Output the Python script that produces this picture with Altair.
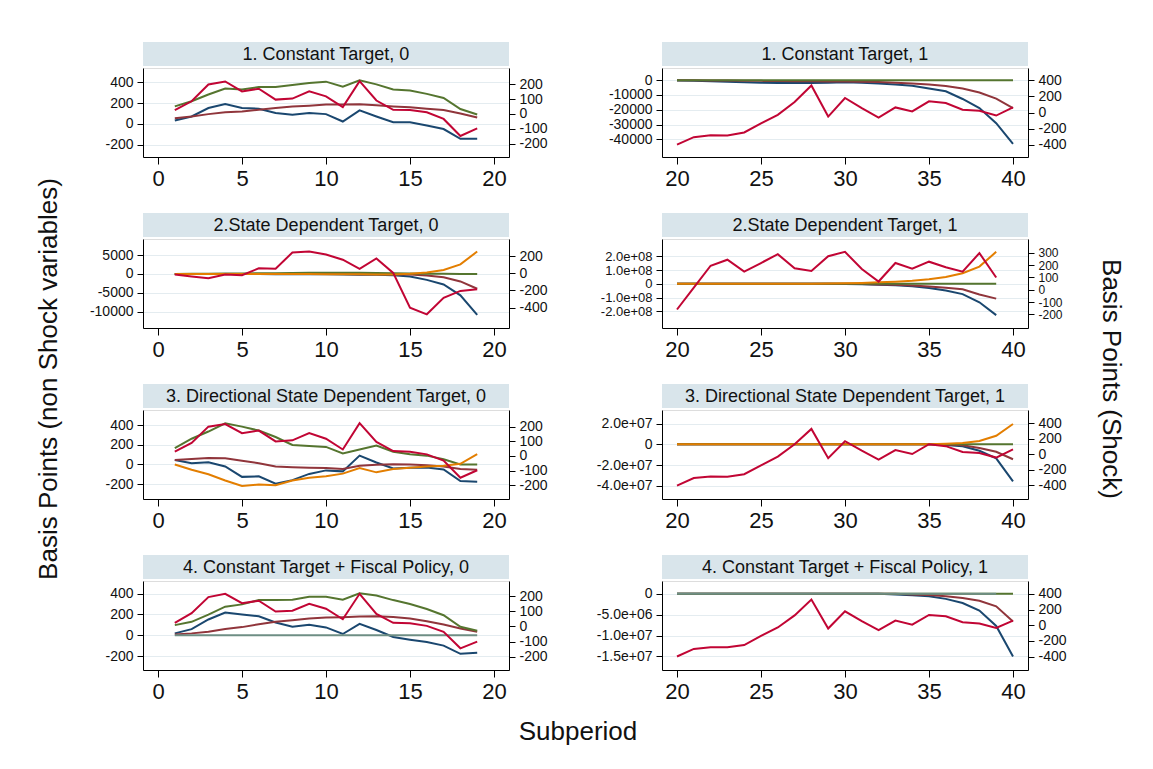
import altair as alt
import pandas as pd

FONT = "Liberation Sans"

# ---------------- data ----------------
X_LEFT = [1, 2, 3, 4, 5, 6, 7, 8, 9, 10, 11, 12, 13, 14, 15, 16, 17, 18, 19]
X_RIGHT = [20, 21, 22, 23, 24, 25, 26, 27, 28, 29, 30, 31, 32, 33, 34, 35, 36, 37, 38, 39, 40]
X_RIGHT_P2 = [20, 21, 22, 23, 24, 25, 26, 27, 28, 29, 30, 31, 32, 33, 34, 35, 36, 37, 38, 39]

TITLES = [
    "1. Constant Target, 0", "1. Constant Target, 1",
    "2.State Dependent Target, 0", "2.State Dependent Target, 1",
    "3. Directional State Dependent Target, 0", "3. Directional State Dependent Target, 1",
    "4. Constant Target + Fiscal Policy, 0", "4. Constant Target + Fiscal Policy, 1",
]

# Panel 1, 0
P1L_NAVY = [32, 71, 152, 191, 152, 146, 104, 87, 104, 94, 23, 130, 71, 16, 16, -16, -49, -143, -143]
P1L_MAROON = [55, 71, 94, 113, 120, 136, 152, 168, 175, 185, 185, 188, 178, 168, 159, 146, 133, 100, 62]
P1L_GREEN = [168, 217, 282, 340, 330, 353, 353, 373, 392, 405, 356, 418, 379, 330, 321, 288, 249, 143, 91]
P1L_SHOCK = [26, 85, 197, 217, 151, 169, 96, 103, 151, 118, 46, 219, 90, 28, 26, 11, -33, -147, -96]

# Panel 1, 1
P1R_NAVY = [-200, -500, -800, -1100, -1400, -1700, -1900, -2000, -1900, -1700, -1500, -1700, -2200,
            -2900, -3800, -5700, -7500, -12700, -18800, -29000, -43000]
P1R_MAROON = [0, -100, -200, -300, -400, -500, -600, -700, -800, -900, -1000, -1100, -1300, -1700,
              -2200, -2950, -4000, -5600, -8300, -12500, -18800]
P1R_GREEN = [0, 0, 0, 0, 0, 0, 0, 0, 0, 0, 0, 0, 0, 0, 0, 0, 0, 0, 0, 0, 0]
P1R_SHOCK = [-400, -307, -282, -286, -248, -135, -29, 131, 337, -51, 181, 55, -63, 63, 13, 139, 118, 34, 21, -38, 63]

# Panel 2, 0
P2L_NAVY = [0, -10, -20, -30, -40, -50, -60, -80, -100, -120, -150, -200, -250, -350, -700, -1580, -2800, -5700, -10900]
P2L_MAROON = [0, -5, -10, -15, -20, -25, -30, -35, -40, -45, -50, -60, -80, -100, -175, -440, -880, -2000, -3950]
P2L_GREEN = [0, 20, 50, 80, 120, 160, 200, 250, 300, 330, 330, 300, 250, 180, 100, 50, 20, 0, 0]
P2L_ORANGE = [0, 0, 0, 0, 0, -10, -20, -30, -50, -70, -90, -120, -150, -150, 50, 350, 1050, 2540, 5960]
P2L_SHOCK = [-15, -38, -57, -15, -23, 57, 53, 241, 252, 218, 157, 50, 172, 4, -401, -478, -287, -206, -187]

# Panel 2, 1
P2R_NAVY = [0, 0, 0, 0, 0, 0, 0, 0, 0, 0, -1000000, -3000000, -6000000, -11000000, -18000000,
            -30000000, -48000000, -75000000, -135000000, -229000000]
P2R_MAROON = [0, 0, 0, 0, 0, 0, 0, 0, 0, 0, 0, -2000000, -4000000, -7000000, -12000000,
              -19000000, -28000000, -39000000, -78000000, -108000000]
P2R_GREEN = [0, 0, 0, 0, 0, 0, 0, 0, 0, 0, 0, 0, 0, 0, 0, 0, 0, 0, 0, 0]
P2R_ORANGE = [0, 0, 0, 0, 0, 0, 0, 0, 1000000, 2000000, 4000000, 7000000, 11000000, 16000000,
              23000000, 33000000, 50000000, 78000000, 126000000, 234000000]
P2R_SHOCK = [-161, 17, 196, 245, 148, 218, 290, 175, 153, 274, 309, 169, 67, 218, 172, 229, 183, 148, 299, 100]

# Panel 3, 0
P3L_NAVY = [46, 13, 23, -20, -126, -120, -196, -159, -96, -60, -70, 90, 20, -40, -33, -30, -50, -169, -176]
P3L_MAROON = [46, 56, 66, 63, 37, 13, -20, -27, -33, -37, -46, -13, -3, 3, 0, -7, -20, -46, -53]
P3L_GREEN = [166, 262, 335, 418, 385, 345, 279, 199, 189, 179, 113, 153, 193, 129, 103, 90, 53, 0, 0]
P3L_ORANGE = [0, -53, -100, -163, -219, -203, -212, -163, -136, -120, -93, -37, -80, -46, -33, -20, -13, 7, 106]
P3L_SHOCK = [29, 88, 199, 217, 155, 172, 99, 106, 155, 117, 44, 223, 95, 33, 29, 11, -31, -148, -97]

# Panel 3, 1
P3R_NAVY = [0, 0, 0, 0, 0, 0, 0, 0, 0, 0, 0, 0, 0, 0, 0, -100000, -600000, -1900000, -6300000,
            -13500000, -35800000]
P3R_MAROON = [0, 0, 0, 0, 0, 0, 0, 0, 0, 0, 0, 0, 0, 0, 0, 0, -200000, -900000, -3500000,
              -7200000, -14400000]
P3R_GREEN = [0, 0, 0, 0, 0, 0, 0, 0, 0, 0, 0, 0, 0, 0, 0, 0, 0, 0, 0, 0, 0]
P3R_ORANGE = [0, 0, 0, 0, 0, 0, 0, 0, 0, 0, 0, 0, 0, 0, 0, 0, 600000, 1300000, 3100000, 8200000, 19500000]
P3R_SHOCK = [-402, -306, -285, -289, -256, -142, -29, 130, 327, -50, 168, 46, -67, 54, 4, 130, 105, 29, 17, -42, 63]

# Panel 4, 0
P4L_NAVY = [19, 60, 152, 218, 199, 183, 123, 82, 101, 76, 13, 111, 51, -16, -41, -63, -98, -177, -167]
P4L_MAROON = [9, 19, 35, 60, 79, 107, 130, 145, 161, 171, 174, 180, 183, 177, 161, 136, 104, 66, 35]
P4L_GREEN = [98, 130, 199, 275, 297, 338, 338, 341, 370, 370, 341, 404, 382, 338, 300, 253, 193, 82, 44]
P4L_TEAL = [0, 0, 0, 0, 0, 0, 0, 0, 0, 0, 0, 0, 0, 0, 0, 0, 0, 0, 0]
P4L_SHOCK = [24, 88, 195, 217, 155, 171, 99, 105, 151, 118, 48, 217, 83, 24, 22, 4, -35, -145, -101]

# Panel 4, 1
P4R_NAVY = [0, 0, 0, 0, 0, 0, 0, 0, 0, 0, 0, 0, 0, -160000, -330000, -550000, -1200000, -2200000,
            -4000000, -7700000, -15000000]
P4R_MAROON = [0, 0, 0, 0, 0, 0, 0, 0, 0, 0, 0, 0, 0, 0, -150000, -300000, -550000, -1000000,
              -1660000, -3000000, -6600000]
P4R_GREEN = [0, 0, 0, 0, 0, 0, 0, 0, 0, 0, 0, 0, 0, 0, 0, 0, 0, 0, 0, 0, 0]
P4R_TEAL = [0, 0, 0, 0, 0, 0, 0, 0, 0, 0, 0, 0, 0, 0, 0, 0, 0, 0, 0, 0]
P4R_SHOCK = [-400, -303, -282, -282, -253, -135, -29, 126, 328, -42, 177, 51, -63, 59, 8, 131, 114, 38, 21, -34, 59]

# tick values / labels
X_TICKS_LEFT = [0, 5, 10, 15, 20]
X_TICKS_RIGHT = [20, 25, 30, 35, 40]

T_A = [-200, 0, 200, 400]
L_A = ["-200", "0", "200", "400"]
T_B = [-200, -100, 0, 100, 200]
L_B = ["-200", "-100", "0", "100", "200"]
T_C = [-10000, -5000, 0, 5000]
L_C = ["-10000", "-5000", "0", "5000"]
T_D = [-400, -200, 0, 200]
L_D = ["-400", "-200", "0", "200"]
T_E = [-40000, -30000, -20000, -10000, 0]
L_E = ["-40000", "-30000", "-20000", "-10000", "0"]
T_F = [-400, -200, 0, 200, 400]
L_F = ["-400", "-200", "0", "200", "400"]
T_G = [-200000000, -100000000, 0, 100000000, 200000000]
L_G = ["-2.0e+08", "-1.0e+08", "0", "1.0e+08", "2.0e+08"]
T_H = [-200, -100, 0, 100, 200, 300]
L_H = ["-200", "-100", "0", "100", "200", "300"]
T_I = [-40000000, -20000000, 0, 20000000]
L_I = ["-4.0e+07", "-2.0e+07", "0", "2.0e+07"]
T_J = [-15000000, -10000000, -5000000, 0]
L_J = ["-1.5e+07", "-1.0e+07", "-5.0e+06", "0"]

# ---------------- styling ----------------
COLORS = {"navy": "#1a476f", "maroon": "#90353b", "green": "#55752f",
          "orange": "#e37e00", "teal": "#6e8e84"}
RED = "#c10534"
STRIP = "#d9e5eb"
GRID = "#e4ecf0"
W, H = 366, 89


def label_expr(values, labels):
    parts = [f"datum.value == {v} ? '{l}'" for v, l in zip(values, labels)]
    return " : ".join(parts) + " : ''"


ONE = pd.DataFrame({"k": [0]})


def panel(title, xs_shock, series, shock, left_dom, lt, ll, right_dom, rt, rl, x_dom, x_ticks,
          extras=(), right_font=14, left_font=14):
    rows = []
    for name, xs, vals in series:
        for x, v in zip(xs, vals):
            rows.append({"x": x, "series": name, "value": v})
    df = pd.DataFrame(rows)
    xenc = alt.X("x:Q", scale=alt.Scale(domain=x_dom, nice=False, zero=False),
                 axis=alt.Axis(values=x_ticks, format="d", title=None, grid=False,
                               tickSize=7, labelFontSize=22, labelPadding=4, labelFont=FONT,
                               labelColor="#111", domainColor="black", tickColor="black",
                               labelFlush=False, labelOverlap=False))
    left_axis = alt.Axis(values=lt, labelExpr=label_expr(lt, ll), title=None, grid=True,
                         gridColor=GRID, gridWidth=1.2, tickSize=6, labelPadding=4,
                         labelFontSize=left_font, labelFont=FONT, labelColor="#111",
                         domainColor="black", tickColor="black", labelOverlap=False,
                         labelFlush=False)
    yscale = alt.Scale(domain=left_dom, nice=False, zero=False)
    layers = []
    for name, _, _ in series:
        layers.append(
            alt.Chart(df).transform_filter(alt.datum.series == name)
            .mark_line(color=COLORS[name], strokeWidth=2)
            .encode(x=xenc, y=alt.Y("value:Q", scale=yscale, axis=left_axis))
        )
    left = alt.layer(*layers)
    sdf = pd.DataFrame({"x": xs_shock, "shock": shock})
    right_axis = alt.Axis(orient="right", values=rt, labelExpr=label_expr(rt, rl), title=None,
                          grid=False, tickSize=6, labelPadding=4, labelFontSize=right_font,
                          labelFont=FONT, labelColor="#111", domainColor="black",
                          tickColor="black", labelOverlap=False, labelFlush=False)
    red = alt.Chart(sdf).mark_line(color=RED, strokeWidth=2).encode(
        x=xenc, y=alt.Y("shock:Q", scale=alt.Scale(domain=right_dom, nice=False, zero=False),
                        axis=right_axis))
    strip = alt.Chart(ONE).mark_rect(color=STRIP).encode(
        x=alt.value(0), x2=alt.value(W), y=alt.value(-26), y2=alt.value(-2))
    stext = alt.Chart(ONE).mark_text(text=title, fontSize=18, font=FONT, color="#111",
                                     baseline="middle", align="center").encode(
        x=alt.value(W / 2), y=alt.value(-13))
    return alt.layer(strip, stext, left, red, *extras).resolve_scale(y="independent").properties(
        width=W, height=H)


LEFT_DOM = [-0.893, 20.893]
RIGHT_DOM = [19.107, 40.893]

left_title = alt.Chart(ONE).mark_text(text="Basis Points (non Shock variables)", fontSize=26,
                                      font=FONT, color="#111", angle=270, align="center",
                                      baseline="middle").encode(x=alt.value(-94), y=alt.value(140))
right_title = alt.Chart(ONE).mark_text(text="Basis Points (Shock)", fontSize=26,
                                       font=FONT, color="#111", angle=90, align="center",
                                       baseline="middle").encode(x=alt.value(449), y=alt.value(140))
bottom_title = alt.Chart(ONE).mark_text(text="Subperiod", fontSize=26, font=FONT, color="#111",
                                        align="center", baseline="middle").encode(
    x=alt.value(435), y=alt.value(151))

p1l = panel(TITLES[0], X_LEFT,
            [("navy", X_LEFT, P1L_NAVY), ("maroon", X_LEFT, P1L_MAROON), ("green", X_LEFT, P1L_GREEN)],
            P1L_SHOCK, [-317, 536], T_A, L_A, [-287, 307], T_B, L_B, LEFT_DOM, X_TICKS_LEFT)
p1r = panel(TITLES[1], X_RIGHT,
            [("navy", X_RIGHT, P1R_NAVY), ("maroon", X_RIGHT, P1R_MAROON), ("green", X_RIGHT, P1R_GREEN)],
            P1R_SHOCK, [-51830, 8180], T_E, L_E, [-554, 554], T_F, L_F, RIGHT_DOM, X_TICKS_RIGHT)
p2l = panel(TITLES[2], X_LEFT,
            [("navy", X_LEFT, P2L_NAVY), ("maroon", X_LEFT, P2L_MAROON), ("green", X_LEFT, P2L_GREEN),
             ("orange", X_LEFT, P2L_ORANGE)],
            P2L_SHOCK, [-14390, 9290], T_C, L_C, [-637, 398], T_D, L_D, LEFT_DOM, X_TICKS_LEFT,
            extras=(left_title,))
p2r = panel(TITLES[3], X_RIGHT_P2,
            [("navy", X_RIGHT_P2, P2R_NAVY), ("maroon", X_RIGHT_P2, P2R_MAROON),
             ("green", X_RIGHT_P2, P2R_GREEN), ("orange", X_RIGHT_P2, P2R_ORANGE)],
            P2R_SHOCK, [-323000000, 328000000], T_G, L_G, [-312, 414], T_H, L_H, RIGHT_DOM,
            X_TICKS_RIGHT, extras=(right_title,), right_font=12, left_font=13)
p3l = panel(TITLES[4], X_LEFT,
            [("navy", X_LEFT, P3L_NAVY), ("maroon", X_LEFT, P3L_MAROON), ("green", X_LEFT, P3L_GREEN),
             ("orange", X_LEFT, P3L_ORANGE)],
            P3L_SHOCK, [-351, 554], T_A, L_A, [-292, 312], T_B, L_B, LEFT_DOM, X_TICKS_LEFT)
p3r = panel(TITLES[5], X_RIGHT,
            [("navy", X_RIGHT, P3R_NAVY), ("maroon", X_RIGHT, P3R_MAROON), ("green", X_RIGHT, P3R_GREEN),
             ("orange", X_RIGHT, P3R_ORANGE)],
            P3R_SHOCK, [-52700000, 33000000], T_I, L_I, [-575, 570], T_F, L_F, RIGHT_DOM, X_TICKS_RIGHT)
p4l = panel(TITLES[6], X_LEFT,
            [("navy", X_LEFT, P4L_NAVY), ("maroon", X_LEFT, P4L_MAROON), ("green", X_LEFT, P4L_GREEN),
             ("teal", X_LEFT, P4L_TEAL)],
            P4L_SHOCK, [-332, 521], T_A, L_A, [-289, 302], T_B, L_B, LEFT_DOM, X_TICKS_LEFT,
            extras=(bottom_title,))
p4r = panel(TITLES[7], X_RIGHT,
            [("navy", X_RIGHT, P4R_NAVY), ("maroon", X_RIGHT, P4R_MAROON), ("green", X_RIGHT, P4R_GREEN),
             ("teal", X_RIGHT_P2, P4R_TEAL)],
            P4R_SHOCK, [-18250000, 3080000], T_J, L_J, [-572, 565], T_F, L_F, RIGHT_DOM, X_TICKS_RIGHT)

chart = alt.concat(p1l, p1r, p2l, p2r, p3l, p3r, p4l, p4r, columns=2,
                   spacing={"row": 82, "column": 153}, bounds="flush").properties(
    padding={"left": 27, "top": 33, "right": 5, "bottom": 5}
).configure_view(stroke=None).configure(background="white")

chart.save("out.html", embed_options={"renderer": "svg", "actions": False})
